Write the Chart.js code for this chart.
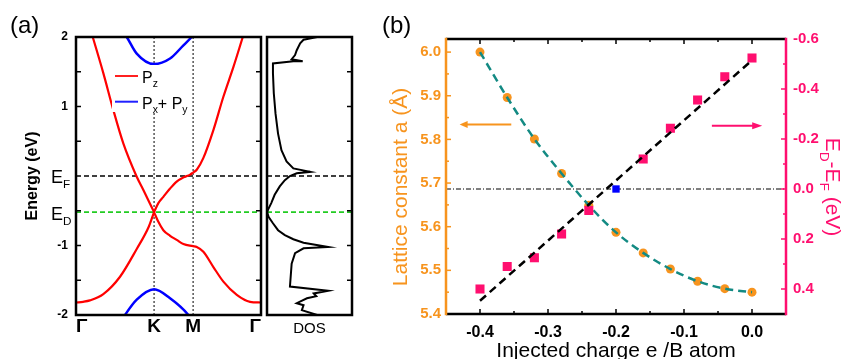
<!DOCTYPE html>
<html>
<head>
<meta charset="utf-8">
<script src="https://cdn.jsdelivr.net/npm/chart.js@4.4.0/dist/chart.umd.min.js"></script>
<style>
  html, body { margin: 0; padding: 0; background: #fff; }
  body { width: 846px; height: 359px; position: relative; overflow: hidden; }
  canvas { position: absolute; top: 0; }
  #bands { left: 0; }
  #dos { left: 264px; }
  #lattice { left: 370px; }
</style>
</head>
<body>
<canvas id="bands" width="264" height="359"></canvas>
<canvas id="dos" width="100" height="359"></canvas>
<canvas id="lattice" width="476" height="359"></canvas>
<script>
const FONT = '"Liberation Sans", Arial, Helvetica, sans-serif';
Chart.defaults.font.family = FONT;
Chart.defaults.color = '#000';

// ---------- panel (a): band structure ----------
const kTicks = [0, 1, 1.5, 2.37];
const kLabels = ['Γ', 'K', 'M', 'Γ'];
const energyTicks = [-2, -1, 1, 2];
const energyMinor = [-1.5, -1, -0.5, 0.5, 1, 1.5];
const eFermi = 0;
const eDirac = -0.52;

// Pz (red) branches
const pzUpGK_k = [0.10, 0.214, 0.35, 0.478, 0.606, 0.778, 0.863, 1.0];
const pzUpGK_E = [2.42, 2.00, 1.48, 0.95, 0.47, -0.01, -0.20, -0.52];
const pzUpKM_k = [1.0, 1.055, 1.119, 1.205, 1.29, 1.376, 1.462, 1.5];
const pzUpKM_E = [-0.52, -0.39, -0.30, -0.18, -0.08, -0.02, 0.02, 0.05];
const pzUpMG_k = [1.5, 1.547, 1.632, 1.76, 1.888, 2.017, 2.137, 2.25];
const pzUpMG_E = [0.05, 0.09, 0.26, 0.66, 1.14, 1.57, 2.0, 2.4];
const pzLoGK_k = [0, 0.09, 0.179, 0.35, 0.564, 0.778, 0.932, 1.0];
const pzLoGK_E = [-1.82, -1.81, -1.79, -1.70, -1.45, -1.05, -0.73, -0.52];
const pzLoKM_k = [1.0, 1.055, 1.119, 1.205, 1.29, 1.376, 1.5];
const pzLoKM_E = [-0.52, -0.66, -0.78, -0.86, -0.92, -0.98, -1.01];
const pzLoMG_k = [1.5, 1.547, 1.632, 1.76, 1.888, 2.06, 2.23, 2.37];
const pzLoMG_E = [-1.01, -1.02, -1.09, -1.31, -1.52, -1.71, -1.81, -1.82];
// Px+Py (blue) branches
const pxyUp_k = [0.6, 0.65, 0.778, 1.0, 1.205, 1.376, 1.483, 1.53];
const pxyUp_E = [2.08, 2.0, 1.76, 1.61, 1.69, 1.88, 2.0, 2.06];
const pxyLo_k = [0.6, 0.628, 0.778, 1.0, 1.205, 1.44, 1.47];
const pxyLo_E = [-2.05, -2.0, -1.78, -1.63, -1.76, -2.0, -2.05];

// DOS (arbitrary units) vs energy
const dosE = [2.0, 1.96, 1.91, 1.81, 1.74, 1.68, 1.65, 1.65, 1.62, 1.48, 1.19, 0.90, 0.61, 0.37, 0.21, 0.11, 0.06, 0.04, 0.0,
  -0.06, -0.15, -0.27, -0.39, -0.49, -0.52, -0.59, -0.68, -0.78, -0.85, -0.91, -0.96, -1.02, -1.04, -1.11, -1.26, -1.59,
  -1.65, -1.69, -1.73, -1.76, -1.83, -1.86, -1.93, -2.0];
const dosVal = [0.59, 0.43, 0.39, 0.35, 0.33, 0.29, 0.42, 0.31, 0.07, 0.07, 0.08, 0.10, 0.13, 0.17, 0.23, 0.31, 0.51, 0.35, 0.27,
  0.21, 0.15, 0.09, 0.05, 0.01, 0.0, 0.02, 0.07, 0.13, 0.21, 0.31, 0.43, 0.72, 0.43, 0.33, 0.29, 0.27,
  0.72, 0.55, 0.58, 0.47, 0.35, 0.43, 0.41, 0.59];

// ---------- panel (b) ----------
const charge = [-0.4, -0.36, -0.32, -0.28, -0.24, -0.2, -0.16, -0.12, -0.08, -0.04, 0.0];
const lattice = [6.0, 5.896, 5.801, 5.722, 5.649, 5.587, 5.54, 5.503, 5.475, 5.458, 5.45];
const shiftCharge = [-0.4, -0.36, -0.32, -0.28, -0.24, -0.16, -0.12, -0.08, -0.04, 0.0];
const diracShift = [0.40, 0.31, 0.275, 0.18, 0.086, -0.12, -0.243, -0.356, -0.449, -0.524];
const neutralCharge = [-0.2];
const neutralShift = [0.0];
const fitCharge = [-0.4, 0.0];
const fitShift = [0.447, -0.515];
const chargeTicks = [-0.4, -0.3, -0.2, -0.1, 0.0];
const chargeMinor = [-0.35, -0.25, -0.15, -0.05];
const latticeTicks = [5.4, 5.5, 5.6, 5.7, 5.8, 5.9, 6.0];
const latticeMinor = [5.45, 5.55, 5.65, 5.75, 5.85, 5.95];
const shiftTicks = [-0.6, -0.4, -0.2, 0.0, 0.2, 0.4];
const shiftMinor = [-0.5, -0.3, -0.1, 0.1, 0.3];

const ORANGE = '#F7941E';
const PINK = '#FF0F6F';
const TEAL = '#138A83';

function pts(xs, ys) { return xs.map((x, i) => ({ x: x, y: ys[i] })); }
function curve(xs, ys, color, width, dash) {
  return { data: pts(xs, ys), showLine: true, borderColor: color, borderWidth: width, borderDash: dash || [],
    pointRadius: 0, cubicInterpolationMode: 'monotone' };
}
function straight(xs, ys, color, width, dash, axis) {
  const d = { data: pts(xs, ys), showLine: true, borderColor: color, borderWidth: width, borderDash: dash || [],
    pointRadius: 0, tension: 0 };
  if (axis) d.yAxisID = axis;
  return d;
}
function hline(ctx, x1, x2, y) { ctx.beginPath(); ctx.moveTo(x1, y); ctx.lineTo(x2, y); ctx.stroke(); }
function vline(ctx, x, y1, y2) { ctx.beginPath(); ctx.moveTo(x, y1); ctx.lineTo(x, y2); ctx.stroke(); }

// text with subscripts: parts = [{t, sub}]
function richWidth(ctx, parts, size, weight) {
  let w = 0;
  parts.forEach(p => {
    ctx.font = (weight || 'normal') + ' ' + (p.sub ? size * 0.65 : size) + 'px ' + FONT;
    w += ctx.measureText(p.t).width;
  });
  return w;
}
function richText(ctx, x, y, parts, size, weight) {
  let cx = x;
  ctx.textAlign = 'left'; ctx.textBaseline = 'alphabetic';
  parts.forEach(p => {
    ctx.font = (weight || 'normal') + ' ' + (p.sub ? size * 0.65 : size) + 'px ' + FONT;
    ctx.fillText(p.t, cx, y + (p.sub ? size * 0.27 : 0));
    cx += ctx.measureText(p.t).width;
  });
}
function arrow(ctx, x1, x2, y, color, head) {
  const dir = Math.sign(x2 - x1);
  ctx.strokeStyle = color; ctx.fillStyle = color; ctx.lineWidth = 2;
  hline(ctx, x1, x2 - dir * head * 0.7, y);
  ctx.beginPath(); ctx.moveTo(x2, y); ctx.lineTo(x2 - dir * head, y - 3.5); ctx.lineTo(x2 - dir * head, y + 3.5);
  ctx.closePath(); ctx.fill();
}

const noGrid = { display: false, drawTicks: false };

// ---------- chart (a) ----------
const decorA = {
  id: 'decorA',
  afterDraw(chart) {
    const ctx = chart.ctx, a = chart.chartArea, ys = chart.scales.y;
    ctx.save();
    // legend box hides the dotted K line
    ctx.fillStyle = '#fff';
    ctx.fillRect(a.left + 36, a.top + 28, 76, 47);
    ctx.strokeStyle = '#000'; ctx.fillStyle = '#000'; ctx.lineWidth = 1.5;
    energyMinor.forEach(v => {
      const p = ys.getPixelForValue(v);
      hline(ctx, a.left, a.left + 5, p);
      hline(ctx, a.right - 5, a.right, p);
    });
    ctx.lineWidth = 2.5;
    ctx.strokeRect(a.left, a.top, a.right - a.left, a.bottom - a.top);
    richText(ctx, 51, ys.getPixelForValue(eFermi) + 7, [{ t: 'E' }, { t: 'F', sub: true }], 18);
    richText(ctx, 51, ys.getPixelForValue(eDirac) + 7.5, [{ t: 'E' }, { t: 'D', sub: true }], 18);
    // legend
    ctx.lineWidth = 2;
    ctx.strokeStyle = '#FF2020'; hline(ctx, a.left + 39, a.left + 62, a.top + 39);
    ctx.strokeStyle = '#2020FF'; hline(ctx, a.left + 39, a.left + 62, a.top + 64.7);
    ctx.fillStyle = '#000';
    richText(ctx, a.left + 66, a.top + 46, [{ t: 'P' }, { t: 'z', sub: true }], 16);
    richText(ctx, a.left + 66, a.top + 71.5, [{ t: 'P' }, { t: 'x', sub: true }, { t: '+ P' }, { t: 'y', sub: true }], 16);
    // panel label and axis title
    ctx.font = '24px ' + FONT; ctx.textAlign = 'left'; ctx.textBaseline = 'alphabetic';
    ctx.fillText('(a)', 10, 33);
    ctx.translate(33, (a.top + a.bottom) / 2);
    ctx.rotate(-Math.PI / 2);
    ctx.font = 'bold 16px ' + FONT; ctx.textAlign = 'center'; ctx.textBaseline = 'middle';
    ctx.fillText('Energy (eV)', 0, 0);
    ctx.restore();
  }
};

new Chart(document.getElementById('bands'), {
  type: 'scatter',
  data: {
    datasets: [
      curve(pzUpGK_k, pzUpGK_E, '#FF0000', 2.2),
      curve(pzUpKM_k, pzUpKM_E, '#FF0000', 2.2),
      curve(pzUpMG_k, pzUpMG_E, '#FF0000', 2.2),
      curve(pzLoGK_k, pzLoGK_E, '#FF0000', 2.2),
      curve(pzLoKM_k, pzLoKM_E, '#FF0000', 2.2),
      curve(pzLoMG_k, pzLoMG_E, '#FF0000', 2.2),
      curve(pxyUp_k, pxyUp_E, '#0000FF', 2.5),
      curve(pxyLo_k, pxyLo_E, '#0000FF', 2.5),
      straight([0, 2.37], [eFermi, eFermi], '#000', 1.5, [5, 3]),
      straight([0, 2.37], [eDirac, eDirac], '#22CC22', 1.8, [5, 3]),
      straight([kTicks[1], kTicks[1]], [-2, 2], '#000', 1, [2, 2]),
      straight([kTicks[2], kTicks[2]], [-2, 2], '#000', 1, [2, 2])
    ]
  },
  options: {
    responsive: false,
    animation: false,
    layout: { padding: { top: 37, right: 3, left: 0, bottom: 0 } },
    plugins: { legend: { display: false }, tooltip: { enabled: false } },
    scales: {
      x: {
        min: 0, max: 2.37,
        grid: noGrid, border: { display: false },
        afterFit: s => { s.height = 44; },
        afterBuildTicks: s => { s.ticks = kTicks.map(v => ({ value: v })); },
        ticks: { callback: (v, i) => kLabels[i], align: 'inner', autoSkip: false, maxRotation: 0, padding: 0,
          font: { size: 19, weight: 'bold' } }
      },
      y: {
        min: -2, max: 2,
        grid: noGrid, border: { display: false },
        afterFit: s => { s.width = 76; },
        afterBuildTicks: s => { s.ticks = energyTicks.map(v => ({ value: v })); },
        ticks: { callback: v => String(v), autoSkip: false, padding: 8, font: { size: 12, weight: 'bold' } }
      }
    }
  },
  plugins: [decorA]
});

// ---------- DOS ----------
const decorDos = {
  id: 'decorDos',
  afterDraw(chart) {
    const ctx = chart.ctx, a = chart.chartArea, ys = chart.scales.y;
    ctx.save();
    ctx.strokeStyle = '#000'; ctx.lineWidth = 1.5;
    energyMinor.forEach(v => hline(ctx, a.right - 5, a.right, ys.getPixelForValue(v)));
    ctx.lineWidth = 2.5;
    ctx.strokeRect(a.left, a.top, a.right - a.left, a.bottom - a.top);
    ctx.fillStyle = '#000';
    ctx.font = '15px ' + FONT; ctx.textAlign = 'center'; ctx.textBaseline = 'alphabetic';
    ctx.fillText('DOS', (a.left + a.right) / 2, 333);
    ctx.restore();
  }
};

new Chart(document.getElementById('dos'), {
  type: 'scatter',
  data: {
    datasets: [
      straight(dosVal, dosE, '#000', 2),
      straight([0, 1], [eFermi, eFermi], '#000', 1.5, [5, 3]),
      straight([0, 1], [eDirac, eDirac], '#22CC22', 1.8, [5, 3])
    ]
  },
  options: {
    responsive: false,
    animation: false,
    layout: { padding: { top: 37, right: 12, left: 3, bottom: 44 } },
    plugins: { legend: { display: false }, tooltip: { enabled: false } },
    scales: {
      x: { display: false, min: 0, max: 1 },
      y: { display: false, min: -2, max: 2 }
    }
  },
  plugins: [decorDos]
});

// ---------- chart (b) ----------
const decorB = {
  id: 'decorB',
  afterDraw(chart) {
    const ctx = chart.ctx, a = chart.chartArea, xs = chart.scales.x, yl = chart.scales.y, yr = chart.scales.y1;
    ctx.save();
    // ticks
    ctx.lineWidth = 1.5; ctx.strokeStyle = '#000';
    chargeTicks.forEach(v => { const p = xs.getPixelForValue(v); vline(ctx, p, a.top, a.top + 5); vline(ctx, p, a.bottom - 5, a.bottom); });
    chargeMinor.forEach(v => { const p = xs.getPixelForValue(v); vline(ctx, p, a.top, a.top + 3); vline(ctx, p, a.bottom - 3, a.bottom); });
    ctx.strokeStyle = ORANGE;
    latticeTicks.forEach(v => hline(ctx, a.left, a.left + 5, yl.getPixelForValue(v)));
    latticeMinor.forEach(v => hline(ctx, a.left, a.left + 3, yl.getPixelForValue(v)));
    ctx.strokeStyle = PINK;
    shiftTicks.forEach(v => hline(ctx, a.right - 5, a.right, yr.getPixelForValue(v)));
    shiftMinor.forEach(v => hline(ctx, a.right - 3, a.right, yr.getPixelForValue(v)));
    // axis lines
    ctx.lineWidth = 2.5;
    ctx.strokeStyle = '#000';
    hline(ctx, a.left, a.right, a.top); hline(ctx, a.left, a.right, a.bottom);
    ctx.strokeStyle = ORANGE; vline(ctx, a.left, a.top - 1.2, a.bottom + 1.2);
    ctx.strokeStyle = PINK; vline(ctx, a.right, a.top - 1.2, a.bottom + 1.2);
    // arrows
    arrow(ctx, xs.getPixelForValue(-0.354), xs.getPixelForValue(-0.43), yl.getPixelForValue(5.834), ORANGE, 8);
    arrow(ctx, xs.getPixelForValue(-0.059), xs.getPixelForValue(0.015), yr.getPixelForValue(-0.253), PINK, 10);
    // labels
    ctx.fillStyle = '#000';
    ctx.font = '24px ' + FONT; ctx.textAlign = 'left'; ctx.textBaseline = 'alphabetic';
    ctx.fillText('(b)', 12, 33);
    ctx.font = '21px ' + FONT; ctx.textAlign = 'center';
    ctx.fillText('Injected charge e /B atom', (a.left + a.right) / 2, 357);
    const midY = 187;
    ctx.save();
    ctx.translate(29, midY); ctx.rotate(-Math.PI / 2);
    ctx.fillStyle = ORANGE; ctx.textAlign = 'center';
    ctx.fillText('Lattice constant a (Å)', 0, 7.5);
    ctx.restore();
    ctx.save();
    ctx.translate(463, midY); ctx.rotate(Math.PI / 2);
    ctx.fillStyle = PINK;
    const parts = [{ t: 'E' }, { t: 'D', sub: true }, { t: '-E' }, { t: 'F', sub: true }, { t: ' (eV)' }];
    richText(ctx, -richWidth(ctx, parts, 21) / 2, 7.5, parts, 21);
    ctx.restore();
    ctx.restore();
  }
};

new Chart(document.getElementById('lattice'), {
  type: 'scatter',
  data: {
    datasets: [
      { data: pts(neutralCharge, neutralShift), yAxisID: 'y1', pointStyle: 'rect', pointRadius: 5.2,
        pointBackgroundColor: '#0000FF', pointBorderWidth: 0 },
      straight([-0.45, 0.05], [0, 0], '#000', 1, [5, 2, 1, 2], 'y1'),
      straight(fitCharge, fitShift, '#000', 2.5, [8, 5], 'y1'),
      { data: pts(shiftCharge, diracShift), yAxisID: 'y1', pointStyle: 'rect', pointRadius: 6.4,
        pointBackgroundColor: PINK, pointBorderWidth: 0 },
      Object.assign(curve(charge, lattice, TEAL, 2.5, [8, 5]), { yAxisID: 'y' }),
      { data: pts(charge, lattice), yAxisID: 'y', pointRadius: 4.5, pointBackgroundColor: ORANGE, pointBorderWidth: 0 }
    ]
  },
  options: {
    responsive: false,
    animation: false,
    layout: { padding: { top: 39, right: 0, left: 0, bottom: 0 } },
    plugins: { legend: { display: false }, tooltip: { enabled: false } },
    scales: {
      x: {
        min: -0.45, max: 0.05,
        grid: noGrid, border: { display: false },
        afterFit: s => { s.height = 45; },
        afterBuildTicks: s => { s.ticks = chargeTicks.map(v => ({ value: v })); },
        ticks: { callback: v => v.toFixed(1), autoSkip: false, maxRotation: 0, padding: 9,
          font: { size: 16, weight: 'bold' } }
      },
      y: {
        position: 'left', min: 5.4, max: 6.03,
        grid: noGrid, border: { display: false },
        afterFit: s => { s.width = 76; },
        afterBuildTicks: s => { s.ticks = latticeTicks.map(v => ({ value: v })); },
        ticks: { callback: v => v.toFixed(1), autoSkip: false, padding: 5, color: ORANGE,
          font: { size: 15, weight: 'bold' } }
      },
      y1: {
        position: 'right', min: -0.6, max: 0.5, reverse: true,
        grid: noGrid, border: { display: false },
        afterFit: s => { s.width = 60; },
        afterBuildTicks: s => { s.ticks = shiftTicks.map(v => ({ value: v })); },
        ticks: { callback: v => v.toFixed(1), autoSkip: false, padding: 7, color: PINK,
          font: { size: 15, weight: 'bold' } }
      }
    }
  },
  plugins: [decorB]
});
</script>
</body>
</html>
